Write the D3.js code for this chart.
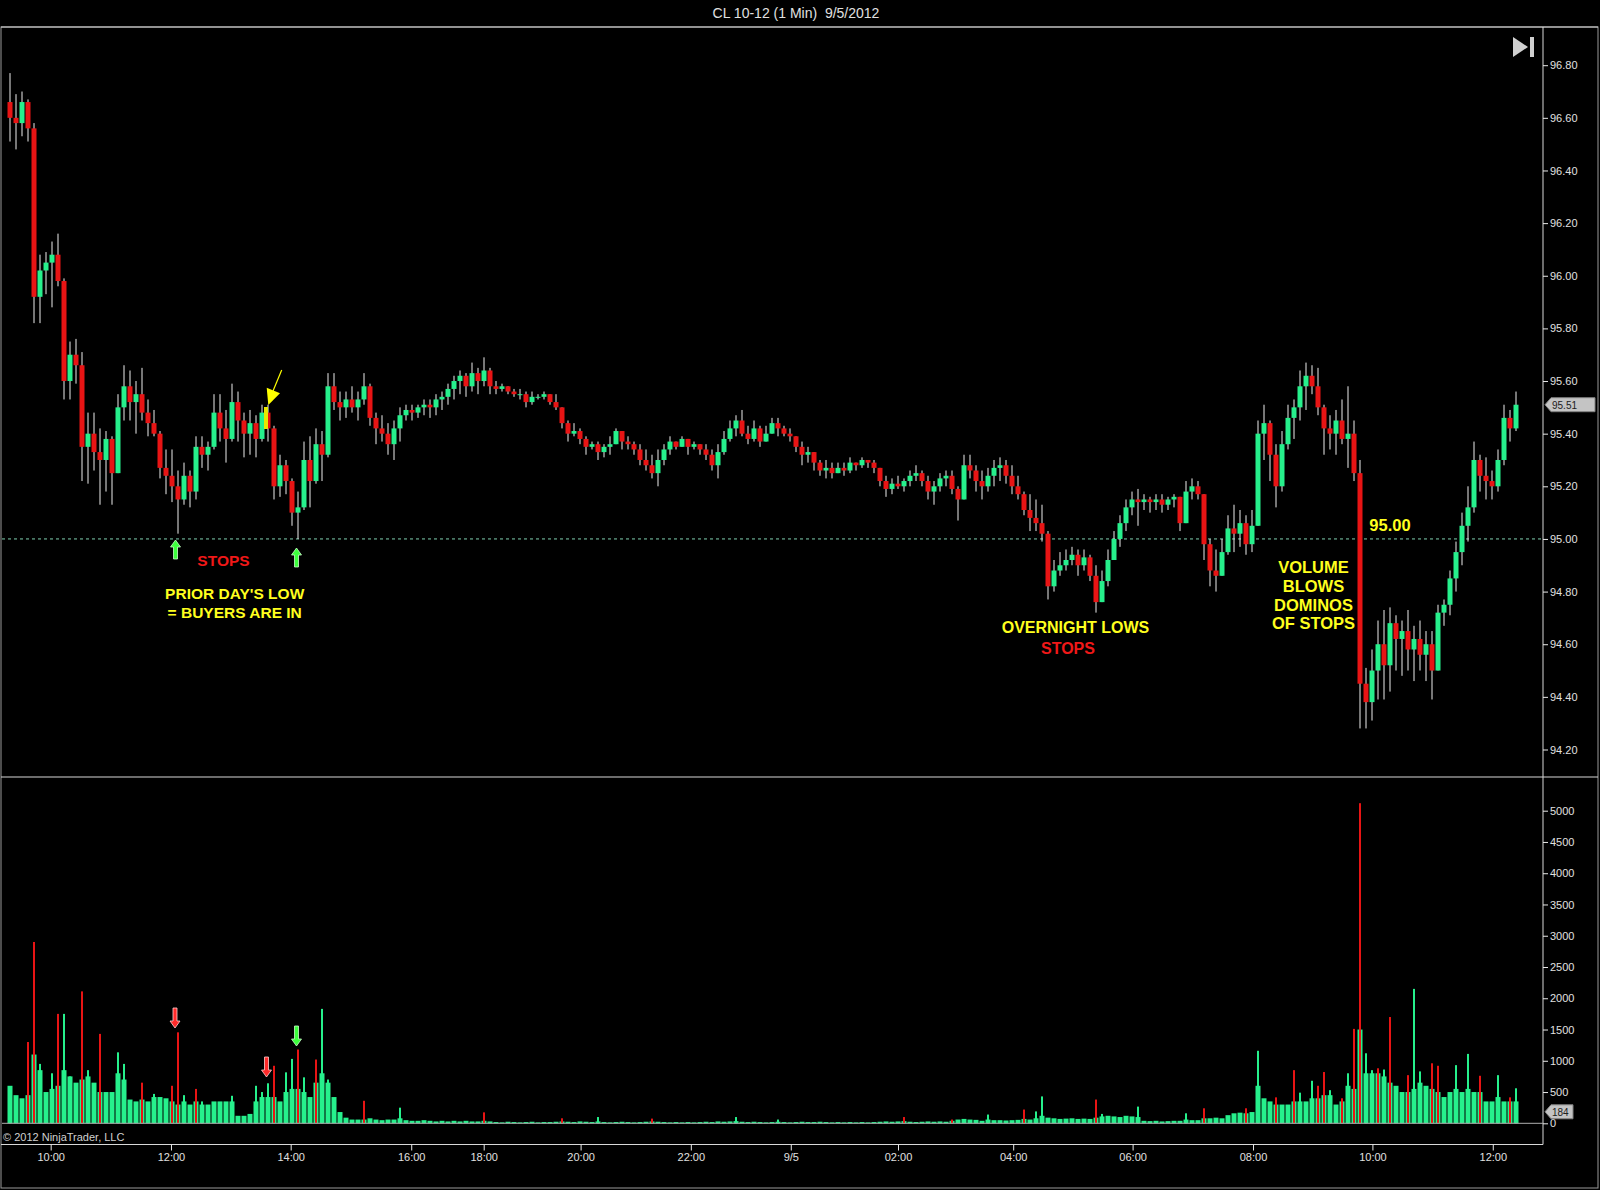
<!DOCTYPE html>
<html lang="en">
<head>
    <meta charset="UTF-8">
    <title>CL 10-12 (1 Min) 9/5/2012</title>
    <script src="https://cdn.jsdelivr.net/npm/d3@7/dist/d3.min.js"></script>
    <style>
        body { margin: 0; background: #000; }
        svg { display: block; font-family: "Liberation Sans", Arial, sans-serif; }
        .axis text { fill: #e0e0e0; font-size: 11px; font-family: "Liberation Sans", Arial, sans-serif; }
        .axis line, .axis path { stroke: #e8e8e8; }
    </style>
</head>
<body>
<svg id="main" width="1600" height="1190"></svg>
<script>
// ---- data: 6-minute segments ----
const barOpen = [96.66,96.60,96.58,96.66,96.56,95.92,96.02,96.05,96.08,95.98,
95.60,95.70,95.66,95.35,95.40,95.33,95.30,95.38,95.25,95.50,
95.58,95.52,95.55,95.48,95.44,95.40,95.27,95.24,95.20,95.15,
95.24,95.18,95.35,95.32,95.35,95.48,95.42,95.38,95.52,95.45,
95.40,95.44,95.38,95.48,95.42,95.20,95.28,95.22,95.10,95.12,
95.30,95.22,95.36,95.32,95.58,95.52,95.50,95.53,95.50,95.53,
95.58,95.46,95.42,95.40,95.36,95.42,95.47,95.49,95.48,95.50,
95.51,95.50,95.53,95.54,95.57,95.60,95.62,95.58,95.63,95.60,
95.64,95.58,95.57,95.58,95.56,95.55,95.55,95.52,95.54,95.54,
95.55,95.52,95.50,95.44,95.40,95.41,95.38,95.35,95.36,95.33,
95.35,95.36,95.41,95.37,95.36,95.34,95.30,95.28,95.25,95.30,
95.34,95.37,95.35,95.38,95.35,95.36,95.34,95.32,95.28,95.33,
95.38,95.42,95.45,95.40,95.38,95.42,95.37,95.40,95.44,95.42,
95.40,95.39,95.35,95.32,95.33,95.29,95.26,95.27,95.25,95.27,
95.26,95.29,95.28,95.30,95.29,95.27,95.22,95.19,95.21,95.20,
95.22,95.24,95.25,95.22,95.18,95.20,95.23,95.24,95.19,95.15,
95.28,95.26,95.22,95.20,95.24,95.27,95.28,95.24,95.20,95.17,
95.11,95.08,95.06,95.02,94.82,94.88,94.90,94.92,94.94,94.90,
94.93,94.86,94.76,94.84,94.92,95.00,95.06,95.12,95.15,95.14,
95.15,95.14,95.15,95.13,95.15,95.16,95.06,95.18,95.20,95.17,
94.98,94.88,94.86,94.95,95.04,95.02,95.06,94.98,95.05,95.40,
95.44,95.32,95.20,95.36,95.46,95.50,95.58,95.62,95.58,95.50,
95.42,95.40,95.45,95.38,95.40,95.25,94.45,94.38,94.50,94.60,
94.52,94.68,94.62,94.65,94.58,94.62,94.56,94.60,94.50,94.72,
94.75,94.85,94.95,95.05,95.12,95.30,95.24,95.22,95.20,95.30,
95.46,95.42];
const barHigh = [96.77,96.69,96.70,96.67,96.58,96.08,96.09,96.13,96.16,95.99,
95.75,95.76,95.71,95.48,95.48,95.42,95.41,95.39,95.55,95.66,
95.64,95.60,95.65,95.53,95.49,95.41,95.34,95.34,95.26,95.29,
95.26,95.39,95.39,95.37,95.55,95.55,95.49,95.59,95.56,95.48,
95.49,95.47,95.51,95.51,95.43,95.32,95.30,95.23,95.18,95.37,
95.39,95.42,95.41,95.63,95.63,95.56,95.56,95.58,95.56,95.63,
95.59,95.48,95.47,95.44,95.45,95.50,95.51,95.51,95.51,95.53,
95.53,95.55,95.56,95.59,95.62,95.64,95.63,95.67,95.65,95.69,
95.65,95.60,95.59,95.58,95.57,95.57,95.56,95.56,95.55,95.56,
95.55,95.55,95.50,95.45,95.44,95.42,95.39,95.37,95.37,95.36,
95.39,95.42,95.41,95.39,95.37,95.36,95.34,95.32,95.34,95.36,
95.39,95.37,95.39,95.38,95.37,95.36,95.36,95.34,95.36,95.41,
95.45,95.47,95.49,95.43,95.45,95.43,95.43,95.46,95.46,95.43,
95.42,95.39,95.37,95.35,95.33,95.30,95.30,95.29,95.29,95.29,
95.31,95.29,95.31,95.30,95.30,95.27,95.24,95.23,95.24,95.23,
95.26,95.28,95.26,95.24,95.22,95.25,95.26,95.26,95.20,95.32,
95.32,95.28,95.26,95.27,95.30,95.31,95.30,95.28,95.24,95.18,
95.17,95.15,95.13,95.03,94.92,94.95,94.96,94.97,94.96,94.96,
94.94,94.90,94.88,94.96,95.03,95.09,95.15,95.18,95.19,95.17,
95.16,95.17,95.17,95.16,95.17,95.16,95.22,95.23,95.22,95.17,
95.00,94.96,95.00,95.09,95.13,95.11,95.09,95.11,95.45,95.51,
95.45,95.36,95.41,95.51,95.53,95.64,95.67,95.66,95.65,95.51,
95.47,95.49,95.53,95.58,95.45,95.30,94.51,94.58,94.69,94.73,
94.74,94.71,94.69,94.73,94.67,94.69,94.65,94.65,94.75,94.77,
94.88,94.99,95.10,95.20,95.37,95.32,95.31,95.26,95.34,95.51,
95.49,95.56];
const barLow = [96.51,96.48,96.53,96.51,95.82,95.82,95.93,95.88,95.96,95.53,
95.53,95.59,95.22,95.21,95.26,95.13,95.18,95.13,95.25,95.45,
95.45,95.40,95.45,95.39,95.39,95.23,95.17,95.14,95.02,95.13,
95.12,95.15,95.27,95.26,95.34,95.37,95.29,95.37,95.37,95.31,
95.32,95.31,95.37,95.37,95.15,95.16,95.17,95.05,95.00,95.11,
95.12,95.21,95.22,95.31,95.49,95.45,95.46,95.48,95.45,95.51,
95.43,95.36,95.37,95.32,95.30,95.37,95.45,95.45,95.46,95.47,
95.46,95.47,95.49,95.51,95.53,95.55,95.54,95.56,95.55,95.58,
95.55,95.55,95.56,95.55,95.54,95.53,95.50,95.51,95.53,95.53,
95.51,95.49,95.42,95.37,95.39,95.36,95.32,95.34,95.30,95.31,
95.32,95.36,95.34,95.34,95.32,95.28,95.26,95.23,95.20,95.28,
95.32,95.34,95.35,95.32,95.34,95.32,95.30,95.26,95.23,95.32,
95.37,95.39,95.39,95.36,95.37,95.35,95.37,95.40,95.39,95.39,
95.37,95.33,95.28,95.29,95.26,95.24,95.23,95.23,95.25,95.24,
95.25,95.26,95.27,95.27,95.25,95.20,95.16,95.17,95.19,95.18,
95.20,95.22,95.20,95.15,95.13,95.18,95.20,95.17,95.07,95.15,
95.23,95.18,95.15,95.18,95.20,95.22,95.21,95.17,95.15,95.09,
95.03,95.03,94.99,94.77,94.80,94.86,94.88,94.90,94.86,94.88,
94.84,94.72,94.76,94.82,94.92,94.97,95.03,95.09,95.05,95.11,
95.10,95.11,95.10,95.11,95.12,95.03,95.06,95.15,95.15,94.92,
94.82,94.80,94.86,94.94,94.95,94.97,94.94,94.95,95.05,95.30,
95.22,95.12,95.18,95.34,95.38,95.45,95.49,95.55,95.47,95.32,
95.34,95.32,95.36,95.27,95.22,94.28,94.28,94.31,94.39,94.39,
94.42,94.50,94.48,94.50,94.46,94.50,94.46,94.39,94.50,94.67,
94.71,94.80,94.90,94.99,95.10,95.18,95.15,95.15,95.18,95.28,
95.37,95.41];
const barClose = [96.60,96.58,96.66,96.56,95.92,96.02,96.05,96.08,95.98,95.60,
95.70,95.66,95.35,95.40,95.33,95.30,95.38,95.25,95.50,95.58,
95.52,95.55,95.48,95.44,95.40,95.27,95.24,95.20,95.15,95.24,
95.18,95.35,95.32,95.35,95.48,95.42,95.38,95.52,95.45,95.40,
95.44,95.38,95.48,95.42,95.20,95.28,95.22,95.10,95.12,95.30,
95.22,95.36,95.32,95.58,95.52,95.50,95.53,95.50,95.53,95.58,
95.46,95.42,95.40,95.36,95.42,95.47,95.49,95.48,95.50,95.51,
95.50,95.53,95.54,95.57,95.60,95.62,95.58,95.63,95.60,95.64,
95.58,95.57,95.58,95.56,95.55,95.55,95.52,95.54,95.54,95.55,
95.52,95.50,95.44,95.40,95.41,95.38,95.35,95.36,95.33,95.35,
95.36,95.41,95.37,95.36,95.34,95.30,95.28,95.25,95.30,95.34,
95.37,95.35,95.38,95.35,95.36,95.34,95.32,95.28,95.33,95.38,
95.42,95.45,95.40,95.38,95.42,95.37,95.40,95.44,95.42,95.40,
95.39,95.35,95.32,95.33,95.29,95.26,95.27,95.25,95.27,95.26,
95.29,95.28,95.30,95.29,95.27,95.22,95.19,95.21,95.20,95.22,
95.24,95.25,95.22,95.18,95.20,95.23,95.24,95.19,95.15,95.28,
95.26,95.22,95.20,95.24,95.27,95.28,95.24,95.20,95.17,95.11,
95.08,95.06,95.02,94.82,94.88,94.90,94.92,94.94,94.90,94.93,
94.86,94.76,94.84,94.92,95.00,95.06,95.12,95.15,95.14,95.15,
95.14,95.15,95.13,95.15,95.16,95.06,95.18,95.20,95.17,94.98,
94.88,94.86,94.95,95.04,95.02,95.06,94.98,95.05,95.40,95.44,
95.32,95.20,95.36,95.46,95.50,95.58,95.62,95.58,95.50,95.42,
95.40,95.45,95.38,95.40,95.25,94.45,94.38,94.50,94.60,94.52,
94.68,94.62,94.65,94.58,94.62,94.56,94.60,94.50,94.72,94.75,
94.85,94.95,95.05,95.12,95.30,95.24,95.22,95.20,95.30,95.46,
95.42,95.51];

// typical volume level per segment
const volBase = [600,450,400,450,1100,850,500,550,600,850,
750,650,700,750,650,500,500,500,800,700,
380,350,380,350,420,420,400,350,300,350,
300,350,300,300,350,350,350,350,120,120,
150,350,420,420,420,350,500,550,550,500,
420,650,800,650,420,180,90,60,60,60,
80,60,50,60,60,80,50,40,40,50,
40,30,40,30,40,30,40,30,30,40,
30,20,15,25,20,15,20,25,15,20,
20,25,30,25,20,30,25,20,30,20,
15,20,25,20,15,20,25,30,25,20,
15,20,15,20,15,20,25,20,30,25,
30,35,25,20,25,20,15,20,25,20,
15,20,25,20,20,25,20,15,20,15,
20,15,20,15,20,25,30,25,30,35,
25,20,25,30,25,30,25,40,60,70,
60,55,40,60,50,50,45,50,55,70,
60,80,120,90,80,70,75,80,70,75,
70,90,110,120,110,100,120,110,100,40,
35,40,30,35,40,40,60,50,50,80,
80,90,80,130,160,170,160,180,600,400,
350,300,300,300,350,350,350,400,400,450,
450,300,350,600,550,1500,800,800,800,750,
650,600,500,500,550,650,600,550,500,420,
500,550,500,550,500,500,350,350,420,350,
350,350];

// single-minute volume spikes: segment, volume, up(1)/down(0)
const spikeSeg = [0,3,4,5,7,8,9,10,12,13,15,18,19,22,24,27,28,29,31,32,
37,41,42,43,44,46,47,48,49,51,52,53,59,65,79,92,98,107,121,128,
149,157,163,169,171,172,181,182,188,196,199,206,208,211,214,215,217,218,219,220,
222,223,224,225,226,227,228,229,230,233,234,235,237,238,241,243,245,248,250,251];
const spikeVol = [560,1300,2900,950,800,1750,1750,750,2110,850,1430,1135,950,650,470,600,1455,450,550,350,
440,600,500,640,920,815,1030,1180,735,1020,1830,700,360,250,175,80,100,75,100,60,
100,60,140,220,190,430,380,150,267,160,240,240,1160,415,850,490,680,600,820,530,
400,800,1510,5120,1120,850,880,860,1700,770,2150,830,960,920,930,1110,760,770,415,560];
const spikeUp = [1,0,0,1,1,0,1,1,0,1,0,1,1,0,1,0,0,1,0,1,
1,1,1,1,0,1,1,0,1,0,1,1,0,1,0,0,1,0,1,1,
0,0,1,0,1,1,0,1,1,1,0,0,1,0,0,1,1,0,0,1,
0,1,0,0,1,1,0,1,0,0,1,1,0,0,1,1,0,1,0,1];

// axis ticks
const priceTicks = [94.20,94.40,94.60,94.80,95.00,95.20,95.40,95.60,95.80,96.00,96.20,96.40,96.60,96.80];
const volTicks = [0,500,1000,1500,2000,2500,3000,3500,4000,4500,5000];
const timeTickPos = [7.28,27.33,47.28,67.37,79.45,95.6,113.97,130.63,148.5,167.7,187.6,207.67,227.57,247.63];
const timeTickLabels = ['10:00','12:00','14:00','16:00','18:00','20:00','22:00','9/5','02:00','04:00','06:00','08:00','10:00','12:00'];
const lastPrice = 95.51;
const lastVolume = 184;
const refLevel = 95.00;

const upColor = '#26f08c', downColor = '#e81414', wickColor = '#ededed';
const lineColor = '#d8d8d8';

let svg = d3.select('svg#main');
const nSeg = barClose.length;
const axisX = 1543;

// scales
let xScale = d3.scaleLinear().domain([0, nSeg]).range([7, 7 + 6 * nSeg]);
let yPrice = d3.scaleLinear().domain([94.20, 96.80]).range([749.5, 65.2]);
let yVol = d3.scaleLinear().domain([0, 5000]).range([1123.3, 810.7]);

// title
svg.append('text')
    .attr('x', 796).attr('y', 17.5)
    .attr('text-anchor', 'middle')
    .style('white-space', 'pre')
    .attr('fill', '#e0e0e0').attr('font-size', 14)
    .text('CL 10-12 (1 Min)  9/5/2012');

// frame and panel lines
svg.append('rect').attr('x', 1).attr('y', 27).attr('width', 1597).attr('height', 1161)
    .attr('fill', 'none').attr('stroke', '#9a9a9a');
svg.append('line').attr('x1', 1).attr('x2', 1598).attr('y1', 27).attr('y2', 27).attr('stroke', lineColor);
svg.append('line').attr('x1', 1).attr('x2', 1598).attr('y1', 777).attr('y2', 777).attr('stroke', lineColor);
svg.append('line').attr('x1', 1).attr('x2', axisX).attr('y1', 1144.5).attr('y2', 1144.5).attr('stroke', lineColor);
svg.append('line').attr('x1', axisX).attr('x2', axisX).attr('y1', 27).attr('y2', 1144.5).attr('stroke', lineColor);

// 95.00 dashed level
svg.append('line')
    .attr('x1', 2).attr('x2', axisX)
    .attr('y1', yPrice(refLevel)).attr('y2', yPrice(refLevel))
    .attr('stroke', '#7fd0b0').attr('stroke-dasharray', '3,3');

// price candles
let idx = d3.range(nSeg);
let candles = svg.append('g').selectAll('g').data(idx).enter().append('g');
candles.append('line')
    .attr('x1', i => xScale(i) + 3).attr('x2', i => xScale(i) + 3)
    .attr('y1', i => yPrice(barHigh[i])).attr('y2', i => yPrice(barLow[i]))
    .attr('stroke', wickColor).attr('stroke-width', 1);
candles.append('rect')
    .attr('x', i => xScale(i) + 0.5)
    .attr('width', 5)
    .attr('y', i => yPrice(Math.max(barOpen[i], barClose[i])))
    .attr('height', i => Math.max(1, Math.abs(yPrice(barOpen[i]) - yPrice(barClose[i]))))
    .attr('fill', i => barClose[i] >= barOpen[i] ? upColor : downColor);

// volume field and spikes
svg.append('g').selectAll('rect').data(idx).enter().append('rect')
    .attr('x', i => xScale(i) + 0.5)
    .attr('width', 5)
    .attr('y', i => yVol(volBase[i]))
    .attr('height', i => yVol(0) - yVol(volBase[i]))
    .attr('fill', upColor);
svg.append('g').selectAll('rect').data(spikeSeg).enter().append('rect')
    .attr('x', k => xScale(k) + 2)
    .attr('width', 2)
    .attr('y', (k, j) => yVol(spikeVol[j]))
    .attr('height', (k, j) => yVol(0) - yVol(spikeVol[j]))
    .attr('fill', (k, j) => spikeUp[j] ? upColor : downColor);
svg.append('line').attr('x1', 2).attr('x2', axisX).attr('y1', yVol(0)).attr('y2', yVol(0))
    .attr('stroke', '#b0b0b0');

// axes
let priceAxis = d3.axisRight(yPrice).tickValues(priceTicks).tickFormat(d3.format('.2f')).tickSize(5).tickPadding(2);
svg.append('g').attr('class', 'axis').attr('transform', `translate(${axisX},0)`).call(priceAxis)
    .call(g => g.select('.domain').remove());
let volAxis = d3.axisRight(yVol).tickValues(volTicks).tickFormat(d3.format('d')).tickSize(5).tickPadding(2);
svg.append('g').attr('class', 'axis').attr('transform', `translate(${axisX},0)`).call(volAxis)
    .call(g => g.select('.domain').remove());
let timeAxis = d3.axisBottom(xScale).tickValues(timeTickPos)
    .tickFormat((d, i) => timeTickLabels[i]).tickSize(6).tickPadding(3);
svg.append('g').attr('class', 'axis').attr('transform', 'translate(0,1144.5)').call(timeAxis)
    .call(g => g.select('.domain').remove());

// last value markers on the axis
function marker(y, label, w) {
    svg.append('path')
        .attr('d', `M${axisX + 2},${y} L${axisX + 8},${y - 7} L${axisX + 8 + w},${y - 7} L${axisX + 8 + w},${y + 7} L${axisX + 8},${y + 7} Z`)
        .attr('fill', '#c4c4c4').attr('stroke', '#808080');
    svg.append('text').attr('x', axisX + 9).attr('y', y + 4)
        .attr('font-size', 10).attr('fill', '#202020').text(label);
}
marker(yPrice(lastPrice), d3.format('.2f')(lastPrice), 44);
marker(yVol(lastVolume), String(lastVolume), 22);

// scroll-to-end icon
svg.append('path').attr('d', 'M1513,37 L1528,47 L1513,57 Z').attr('fill', '#d0d0d0');
svg.append('rect').attr('x', 1530).attr('y', 37).attr('width', 4).attr('height', 20).attr('fill', '#d0d0d0');

// copyright
svg.append('text').attr('x', 3).attr('y', 1141).attr('font-size', 11).attr('fill', '#d0d0d0')
    .text('\u00a9 2012 NinjaTrader, LLC');

// ---- annotations ----
function arrowUp(cx, top, color, edge) {
    svg.append('path')
        .attr('d', `M${cx},${top} L${cx + 5},${top + 7} L${cx + 2},${top + 7} L${cx + 2},${top + 19} L${cx - 2},${top + 19} L${cx - 2},${top + 7} L${cx - 5},${top + 7} Z`)
        .attr('fill', color).attr('stroke', edge).attr('stroke-width', 0.8);
}
function arrowDown(cx, tip, color, edge) {
    svg.append('path')
        .attr('d', `M${cx},${tip} L${cx + 5},${tip - 7} L${cx + 2},${tip - 7} L${cx + 2},${tip - 20} L${cx - 2},${tip - 20} L${cx - 2},${tip - 7} L${cx - 5},${tip - 7} Z`)
        .attr('fill', color).attr('stroke', edge).attr('stroke-width', 0.8);
}
arrowUp(175.5, 540, '#3cff3c', '#c8ffc8');
arrowUp(296.5, 548, '#3cff3c', '#c8ffc8');
arrowDown(175, 1028, '#ff2a2a', '#ffd0d0');
arrowDown(266.5, 1077, '#ff2a2a', '#ffd0d0');
arrowDown(296.5, 1046, '#3cff3c', '#c8ffc8');

// yellow pointer to the highlighted bar
svg.append('rect').attr('x', 264).attr('y', 407).attr('width', 4).attr('height', 22).attr('fill', '#e8e800');
svg.append('line').attr('x1', 281.7).attr('y1', 370).attr('x2', 273).attr('y2', 391)
    .attr('stroke', '#ffff00').attr('stroke-width', 1.2);
svg.append('path').attr('d', 'M266.7,387.7 L280,393.3 L268.3,405 Z').attr('fill', '#ffff00');

function note(x, y, txt, color, size) {
    svg.append('text').attr('x', x).attr('y', y).attr('text-anchor', 'middle')
        .attr('font-size', size).attr('font-weight', 'bold').attr('fill', color).text(txt);
}
const yellow = '#ffff1e', red = '#f01818';
note(223.5, 566, 'STOPS', red, 15.5);
note(234.7, 599, "PRIOR DAY'S LOW", yellow, 15.5);
note(234.7, 618, '= BUYERS ARE IN', yellow, 15.5);
note(1075.5, 632.5, 'OVERNIGHT LOWS', yellow, 16);
note(1068, 654, 'STOPS', red, 16);
note(1390, 531, '95.00', yellow, 16.5);
note(1313.5, 573.3, 'VOLUME', yellow, 16.5);
note(1313.5, 592, 'BLOWS', yellow, 16.5);
note(1313.5, 610.7, 'DOMINOS', yellow, 16.5);
note(1313.5, 629.3, 'OF STOPS', yellow, 16.5);
</script>
</body>
</html>
